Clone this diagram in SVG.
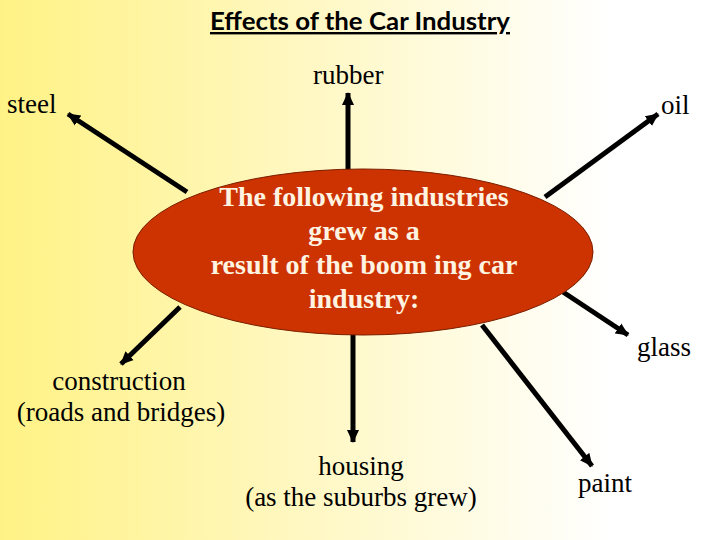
<svg xmlns="http://www.w3.org/2000/svg" width="720" height="540" viewBox="0 0 720 540">
<defs>
<linearGradient id="bg" x1="0" y1="0" x2="1" y2="0">
<stop offset="0" stop-color="#FFF285"/>
<stop offset="0.45" stop-color="#FFF8C6"/>
<stop offset="0.85" stop-color="#FFFFFF"/>
<stop offset="1" stop-color="#FFFFFF"/>
</linearGradient>
<marker id="ah" markerUnits="userSpaceOnUse" markerWidth="14" markerHeight="14" viewBox="0 0 14 14" refX="12" refY="7" orient="auto">
<path d="M0,1 L13,7 L0,13 Z" fill="#000"/>
</marker>
<style>
.lbl{font-family:"Liberation Serif","Times New Roman",serif;font-size:27px;fill:#000}
.ctr{font-family:"Liberation Serif","Times New Roman",serif;font-size:28px;font-weight:bold;fill:#FFF3E2;text-anchor:middle}
.arr{stroke:#000;stroke-width:5;fill:none;marker-end:url(#ah)}
</style>
</defs>
<rect width="720" height="540" fill="url(#bg)"/>
<text x="360" y="30" font-family="Lato, 'Open Sans', sans-serif" font-weight="bold" font-size="24" text-anchor="middle" text-decoration="underline" textLength="300" lengthAdjust="spacingAndGlyphs" fill="#000">Effects of the Car Industry</text>
<g id="connectors">
<line class="arr" x1="187" y1="192" x2="68" y2="114"/>
<line class="arr" x1="348" y1="172" x2="348" y2="93"/>
<line class="arr" x1="545" y1="197" x2="658" y2="114"/>
<line class="arr" x1="563" y1="292" x2="628" y2="335"/>
<line class="arr" x1="482" y1="325" x2="592" y2="466"/>
<line class="arr" x1="180" y1="307" x2="121" y2="364"/>
<line class="arr" x1="353" y1="334" x2="353" y2="442"/>
</g>
<g id="center">
<ellipse cx="363" cy="252" rx="230" ry="83" fill="#CC3300" stroke="#7A1E00" stroke-width="1"/>
<text class="ctr" x="364" y="206">The following industries</text>
<text class="ctr" x="364" y="240">grew as a</text>
<text class="ctr" x="364" y="274">result of the boom ing car</text>
<text class="ctr" x="364" y="308">industry:</text>
</g>
<g id="steel"><text class="lbl" x="7" y="113">steel</text></g>
<g id="rubber"><text class="lbl" x="313" y="84">rubber</text></g>
<g id="oil"><text class="lbl" x="661" y="114">oil</text></g>
<g id="glass"><text class="lbl" x="637" y="356">glass</text></g>
<g id="construction">
<text class="lbl" x="119" y="390" text-anchor="middle">construction</text>
<text class="lbl" x="121" y="421" text-anchor="middle">(roads and bridges)</text>
</g>
<g id="housing">
<text class="lbl" x="361" y="475" text-anchor="middle">housing</text>
<text class="lbl" x="361" y="506" text-anchor="middle">(as the suburbs grew)</text>
</g>
<g id="paint"><text class="lbl" x="578" y="492">paint</text></g>
</svg>
